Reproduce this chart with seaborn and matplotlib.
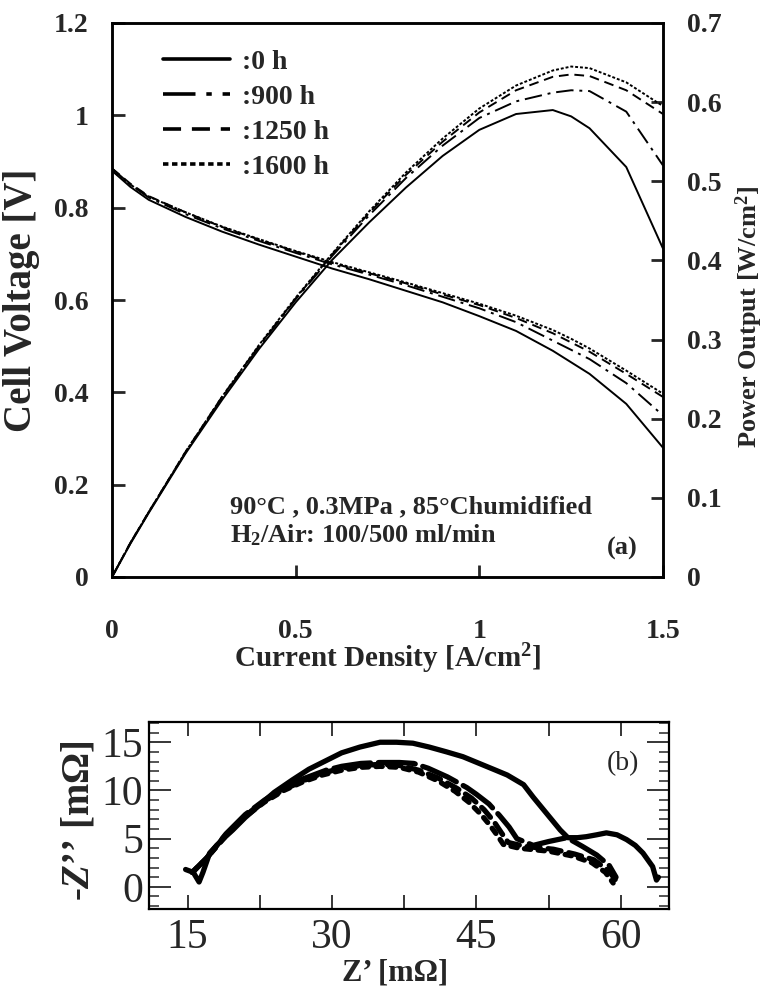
import numpy as np
import pandas as pd
import seaborn as sns
import matplotlib.pyplot as plt
from matplotlib.ticker import MultipleLocator, FuncFormatter

sns.set_style("ticks")
plt.rcParams['font.family'] = ['Liberation Serif', 'DejaVu Serif']
plt.rcParams['mathtext.fontset'] = 'custom'
plt.rcParams['mathtext.rm'] = 'Liberation Serif:bold'
plt.rcParams['mathtext.bf'] = 'Liberation Serif:bold'
plt.rcParams['mathtext.it'] = 'Liberation Serif:italic:bold'

# ---- (a) polarization / power curves ----
current = [0, 0.05, 0.1, 0.2, 0.3, 0.4, 0.5, 0.6, 0.7, 0.8, 0.9, 1.0, 1.1, 1.2, 1.25, 1.3, 1.4, 1.5]

volt_0h = [0.88, 0.845, 0.817, 0.78, 0.748, 0.72, 0.694, 0.668, 0.645, 0.62, 0.595, 0.565, 0.533, 0.49, 0.465, 0.44, 0.375, 0.28]
volt_900h = [0.885, 0.85, 0.822, 0.786, 0.755, 0.728, 0.702, 0.677, 0.655, 0.632, 0.607, 0.582, 0.552, 0.512, 0.492, 0.472, 0.42, 0.35]
volt_1250h = [0.885, 0.852, 0.825, 0.79, 0.758, 0.731, 0.705, 0.68, 0.658, 0.636, 0.612, 0.589, 0.561, 0.528, 0.508, 0.488, 0.44, 0.39]
volt_1600h = [0.88, 0.85, 0.824, 0.79, 0.759, 0.732, 0.706, 0.682, 0.66, 0.638, 0.615, 0.592, 0.566, 0.535, 0.516, 0.495, 0.447, 0.397]

power_0h = [0, 0.042, 0.081, 0.156, 0.224, 0.288, 0.347, 0.401, 0.448, 0.492, 0.532, 0.565, 0.585, 0.59, 0.582, 0.567, 0.518, 0.415]
power_900h = [0, 0.043, 0.082, 0.157, 0.227, 0.291, 0.351, 0.406, 0.457, 0.504, 0.545, 0.58, 0.601, 0.612, 0.615, 0.614, 0.588, 0.52]
power_1250h = [0, 0.043, 0.082, 0.158, 0.228, 0.292, 0.352, 0.408, 0.46, 0.508, 0.55, 0.587, 0.615, 0.632, 0.635, 0.633, 0.615, 0.585]
power_1600h = [0, 0.043, 0.082, 0.158, 0.228, 0.293, 0.353, 0.409, 0.462, 0.511, 0.554, 0.592, 0.621, 0.640, 0.645, 0.643, 0.625, 0.595]

labels = [':0 h', ':900 h', ':1250 h', ':1600 h']
styles = ['-', (0, (9, 3, 1.5, 3)), (0, (5, 3)), (0, (1.5, 1))]

# ---- (b) impedance spectra ----
zre_0h = [14.8, 15.6, 16.2, 16.6, 17.3, 18.5, 19.7, 21.0, 22.5, 24.0, 25.9, 27.6, 29.4, 31.0, 32.9, 35.0, 36.7, 38.4, 40.1, 41.9, 43.6, 45.3, 47.0, 48.2, 49.9, 50.9, 52.3, 53.7, 54.5, 55.5, 56.4, 57.5, 58.5, 59.6, 60.6, 61.5, 62.3, 63.3, 63.7, 63.9]
zim_0h = [1.8, 1.5, 0.5, 1.5, 3.5, 4.8, 5.9, 7.2, 8.5, 9.8, 11.1, 12.2, 13.1, 13.9, 14.5, 15.0, 15.0, 14.9, 14.5, 14.0, 13.5, 12.8, 12.1, 11.6, 10.6, 9.3, 7.6, 5.9, 5.1, 5.1, 5.2, 5.4, 5.6, 5.4, 4.9, 4.3, 3.5, 2.1, 0.7, 1.0]

zre_900h = [15.5, 17.0, 19.0, 21.0, 23.0, 25.0, 27.0, 29.4, 31.0, 33.0, 35.0, 37.0, 38.5, 40.0, 42.0, 44.0, 45.0, 46.3, 47.4, 48.4, 49.2, 50.9, 52.5, 54.4, 56.0, 57.5, 58.8, 59.5]
zim_900h = [1.5, 3.0, 5.5, 7.5, 9.0, 10.3, 11.2, 12.1, 12.5, 12.8, 12.9, 12.9, 12.8, 12.3, 11.4, 10.3, 9.6, 8.6, 7.4, 6.2, 5.0, 4.3, 4.7, 5.1, 4.2, 3.3, 2.2, 1.0]

zre_1250h = [15.5, 17.0, 19.0, 21.0, 23.0, 25.0, 27.0, 29.0, 31.0, 33.0, 35.0, 37.0, 39.0, 41.0, 43.0, 44.5, 45.8, 46.8, 47.6, 48.3, 50.0, 53.0, 55.2, 57.2, 58.8, 59.6]
zim_1250h = [1.5, 3.0, 5.4, 7.4, 8.9, 10.1, 11.0, 11.8, 12.3, 12.6, 12.7, 12.6, 12.1, 11.3, 10.2, 9.2, 8.0, 6.8, 5.6, 4.6, 4.2, 3.9, 3.4, 2.8, 1.6, 0.5]

zre_1600h = [15.5, 17.0, 19.0, 21.0, 23.0, 25.0, 27.0, 29.0, 31.0, 33.0, 35.0, 37.0, 39.0, 41.0, 42.8, 44.2, 45.4, 46.4, 47.2, 47.8, 49.5, 52.5, 55.0, 57.0, 58.4, 59.2]
zim_1600h = [1.5, 3.0, 5.3, 7.3, 8.8, 10.0, 10.9, 11.6, 12.1, 12.4, 12.5, 12.4, 11.9, 11.0, 9.9, 8.8, 7.6, 6.4, 5.3, 4.4, 4.0, 3.7, 3.2, 2.5, 1.5, 0.4]

nyq_styles = ['-', (0, (7, 1.5)), (0, (2.5, 1.5)), (0, (1.2, 1.4))]

fig = plt.figure(figsize=(7.68, 9.92), dpi=100)

# ---------- panel (a) ----------
ax = fig.add_axes([112/768, 1-577/992, 551/768, 554/992])
ax2 = ax.twinx()

volts = [volt_0h, volt_900h, volt_1250h, volt_1600h]
powers = [power_0h, power_900h, power_1250h, power_1600h]
for v, p, lab, ls in zip(volts, powers, labels, styles):
    sns.lineplot(x=current, y=v, ax=ax, color='black', lw=1.4, linestyle=ls, label=lab,
                 estimator=None, sort=False)
    sns.lineplot(x=current, y=p, ax=ax2, color='black', lw=1.4, linestyle=ls,
                 estimator=None, sort=False, legend=False)

ax.set_xlim(0, 1.5)
ax.set_ylim(0, 1.2)
ax2.set_ylim(0, 0.7)
ax.set_xticks([0, 0.5, 1, 1.5])
ax.set_yticks([0, 0.2, 0.4, 0.6, 0.8, 1.0, 1.2])
ax2.set_yticks([0, 0.1, 0.2, 0.3, 0.4, 0.5, 0.6, 0.7])
fmt = FuncFormatter(lambda v, pos: '{:g}'.format(round(v, 2)))
ax.xaxis.set_major_formatter(fmt)
ax.yaxis.set_major_formatter(fmt)
ax2.yaxis.set_major_formatter(fmt)

ax.tick_params(axis='x', direction='in', length=9, width=2, pad=30, labelsize=20)
ax.tick_params(axis='y', direction='in', length=9, width=2, pad=17, labelsize=20)
ax2.tick_params(axis='y', direction='in', length=9, width=2, pad=17, labelsize=20)
for t in ax.get_xticklabels() + ax.get_yticklabels() + ax2.get_yticklabels():
    t.set_fontweight('bold')
for a in (ax, ax2):
    for s in a.spines.values():
        s.set_linewidth(1.8)
        s.set_color('black')

ax.set_xlabel('Current Density [A/cm$^{2}$]', fontsize=21, fontweight='bold')
ax.set_ylabel('Cell Voltage [V]', fontsize=28, fontweight='bold')
ax2.set_ylabel('Power Output [W/cm$^{2}$]', fontsize=19, fontweight='bold')
ax.xaxis.set_label_coords(0.5, -0.117)
ax.yaxis.set_label_coords(-0.13, 0.5)
ax2.yaxis.set_label_coords(1.128, 0.47)

leg = ax.legend(loc='upper left', bbox_to_anchor=(51/551, 0.952), frameon=False,
                borderpad=0, borderaxespad=0, handlelength=2.4, handletextpad=0.45,
                labelspacing=0.34, prop={'family': 'Liberation Serif', 'weight': 'bold', 'size': 20})
for line in leg.get_lines():
    line.set_linewidth(2.6)

ax.text(0.214, 0.126, '90\u00b0C , 0.3MPa , 85\u00b0Chumidified', transform=ax.transAxes,
        fontsize=19, fontweight='bold', va='center', ha='left')
ax.text(0.214, 0.076, 'H$_{2}$/Air: 100/500 ml/min', transform=ax.transAxes,
        fontsize=19, fontweight='bold', va='center', ha='left')
ax.text(0.926, 0.052, '(a)', transform=ax.transAxes, fontsize=19, fontweight='bold',
        va='center', ha='center')

# ---------- panel (b) ----------
bx = fig.add_axes([149/768, 1-909/992, 520/768, 187/992])
zres = [zre_0h, zre_900h, zre_1250h, zre_1600h]
zims = [zim_0h, zim_900h, zim_1250h, zim_1600h]
for zr, zi, ls in zip(zres, zims, nyq_styles):
    sns.lineplot(x=zr, y=zi, ax=bx, color='black', lw=3.8, linestyle=ls,
                 estimator=None, sort=False, legend=False)
    bx.lines[-1].set_solid_capstyle('round')
    bx.lines[-1].set_dash_capstyle('round')

bx.set_xlim(11, 65)
bx.set_ylim(-2.3, 17.1)
bx.xaxis.set_minor_locator(MultipleLocator(7.5))
bx.yaxis.set_minor_locator(MultipleLocator(1))
bx.set_xticks([15, 30, 45, 60])
bx.set_yticks([0, 5, 10, 15])
bx.tick_params(which='both', direction='in', top=True, right=True)
bx.tick_params(axis='x', which='both', length=10, width=1.3, labelsize=30, pad=7)
bx.tick_params(axis='y', which='major', length=16, width=1.3, labelsize=30, pad=4)
bx.tick_params(axis='y', which='minor', length=7, width=1.1)
for s in bx.spines.values():
    s.set_linewidth(1.6)
    s.set_color('black')
bx.set_xlabel('Z\u2019 [m\u03a9]', fontsize=22, fontweight='bold')
bx.set_ylabel('-$Z$\u2019\u2019 [m\u03a9]', fontsize=28, fontweight='bold')
bx.xaxis.set_label_coords(0.473, -0.265)
bx.yaxis.set_label_coords(-0.1, 0.47)
bx.text(0.912, 0.78, '(b)', transform=bx.transAxes, fontsize=20, va='center', ha='center')

fig.savefig('out.png', dpi=100)
